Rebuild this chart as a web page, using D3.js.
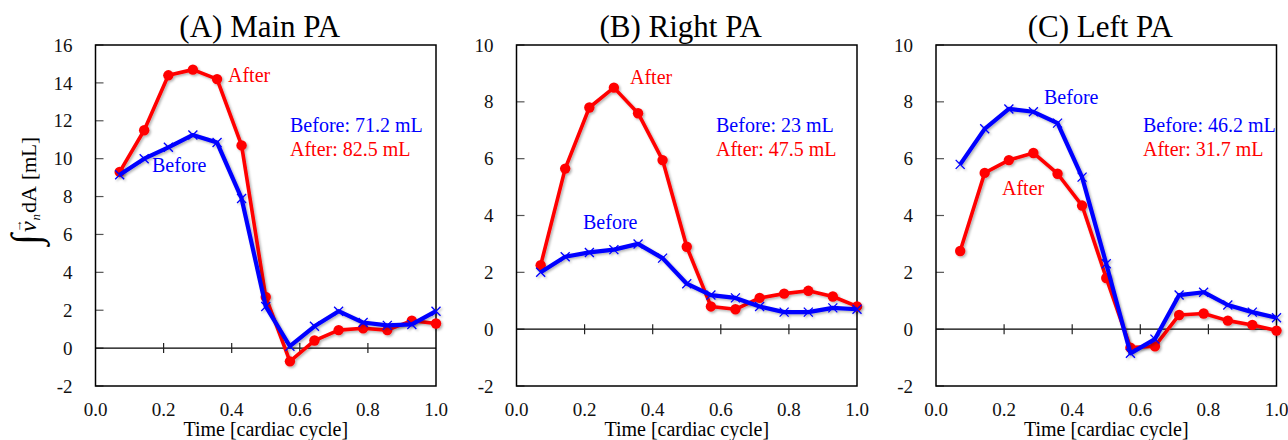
<!DOCTYPE html>
<html><head><meta charset="utf-8">
<script src="https://cdn.jsdelivr.net/npm/d3@7"></script>
<style>
body{margin:0;background:#fff;}
text{font-family:"Liberation Serif","Times New Roman",serif;}
</style></head>
<body><svg id="c" width="1288" height="440"></svg>
<script>
// ---- data ----
const times = [0.071,0.143,0.214,0.286,0.357,0.429,0.5,0.571,0.643,0.714,0.786,0.857,0.929,1.0];
const mainBefore  = [9.15,10.0,10.6,11.25,10.85,7.9,2.2,0.1,1.15,1.95,1.35,1.2,1.25,1.95];
const mainAfter   = [9.3,11.5,14.4,14.7,14.2,10.7,2.7,-0.7,0.4,0.95,1.05,0.95,1.45,1.3];
const rightBefore = [2.0,2.55,2.7,2.8,3.0,2.5,1.6,1.2,1.1,0.8,0.6,0.6,0.75,0.7];
const rightAfter  = [2.25,5.65,7.8,8.5,7.6,5.95,2.9,0.8,0.7,1.1,1.25,1.35,1.15,0.8];
const leftBefore  = [5.8,7.05,7.75,7.65,7.25,5.35,2.3,-0.85,-0.35,1.2,1.3,0.85,0.6,0.4];
const leftAfter   = [2.75,5.5,5.95,6.2,5.47,4.35,1.8,-0.65,-0.6,0.5,0.55,0.3,0.15,-0.05];
const xTicks = [0.0,0.2,0.4,0.6,0.8,1.0];
const yTicksMain = [-2,0,2,4,6,8,10,12,14,16];
const yTicksBranch = [-2,0,2,4,6,8,10];
const titles = ["(A) Main PA","(B) Right PA","(C) Left PA"];
const volBefore = ["Before: 71.2 mL","Before: 23 mL","Before: 46.2 mL"];
const volAfter  = ["After: 82.5 mL","After: 47.5 mL","After: 31.7 mL"];

// ---- layout ----
const svg = d3.select("#c");
const defs = svg.append("defs");
const f = defs.append("filter").attr("id","sh").attr("x","-10%").attr("y","-10%").attr("width","130%").attr("height","130%");
f.append("feDropShadow").attr("dx",1.5).attr("dy",1.5).attr("stdDeviation",1.2).attr("flood-color","#000").attr("flood-opacity",0.3);

const panels = [
  {left:95.5, before:mainBefore, after:mainAfter, yDom:[-2,16], yTicks:yTicksMain,
   labAfter:[228,82], labBefore:[152,172], vol:[290,132]},
  {left:516.5, before:rightBefore, after:rightAfter, yDom:[-2,10], yTicks:yTicksBranch,
   labAfter:[630,84], labBefore:[583,229], vol:[716,132]},
  {left:936, before:leftBefore, after:leftAfter, yDom:[-2,10], yTicks:yTicksBranch,
   labAfter:[1002,195], labBefore:[1044,104], vol:[1143,132]}
];
const PW = 340.5, PTOP = 45, PBOT = 386;
const RED = "#ff0000", BLUE = "#0000ff";

panels.forEach((p,i)=>{
  const x = d3.scaleLinear().domain([0,1]).range([p.left, p.left+PW]);
  const y = d3.scaleLinear().domain(p.yDom).range([PBOT, PTOP]);
  const g = svg.append("g");

  g.append("text").attr("x", p.left+PW/2-6).attr("y",37).attr("text-anchor","middle")
    .attr("font-size",31).attr("fill","#000").text(titles[i]);

  g.selectAll(".yt").data(p.yTicks).join("line")
    .attr("x1",p.left).attr("x2",p.left+8).attr("y1",d=>y(d)).attr("y2",d=>y(d))
    .attr("stroke","#555").attr("stroke-width",1.2);
  g.selectAll(".yl").data(p.yTicks).join("text")
    .attr("x",p.left-23).attr("y",d=>y(d)).attr("dy","0.35em").attr("text-anchor","end")
    .attr("font-size",19).attr("fill","#111").text(d=>d);

  g.append("line").attr("x1",p.left).attr("x2",p.left+PW).attr("y1",y(0)).attr("y2",y(0))
    .attr("stroke","#000").attr("stroke-width",1.2);
  g.selectAll(".xt").data(xTicks.slice(1,-1)).join("line")
    .attr("x1",d=>x(d)).attr("x2",d=>x(d)).attr("y1",y(0)-5).attr("y2",y(0)+5)
    .attr("stroke","#222").attr("stroke-width",1.2);
  g.selectAll(".xl").data(xTicks).join("text")
    .attr("x",d=>x(d)).attr("y",416).attr("text-anchor","middle")
    .attr("font-size",19).attr("fill","#111").text(d=>d.toFixed(1));

  g.append("rect").attr("x",p.left).attr("y",PTOP).attr("width",PW).attr("height",PBOT-PTOP)
    .attr("fill","none").attr("stroke","#000").attr("stroke-width",1.5);

  g.append("text").attr("x",p.left+PW/2).attr("y",436).attr("text-anchor","middle")
    .attr("font-size",20).attr("fill","#000").text("Time [cardiac cycle]");

  const line = d3.line().x((d,j)=>x(times[j])).y(d=>y(d));
  const ga = g.append("g").attr("filter","url(#sh)");
  ga.append("path").attr("d",line(p.after)).attr("fill","none").attr("stroke",RED)
    .attr("stroke-width",3.6).attr("stroke-linejoin","round");
  ga.selectAll("circle").data(p.after).join("circle")
    .attr("cx",(d,j)=>x(times[j])).attr("cy",d=>y(d)).attr("r",5.2).attr("fill",RED);
  const gb = g.append("g").attr("filter","url(#sh)");
  gb.append("path").attr("d",line(p.before)).attr("fill","none").attr("stroke",BLUE)
    .attr("stroke-width",4.2).attr("stroke-linejoin","round");
  const s = 4.5;
  gb.selectAll(".mk").data(p.before).join("path")
    .attr("d",(d,j)=>{const cx=x(times[j]), cy=y(d);
      return `M${cx-s},${cy-s}L${cx+s},${cy+s}M${cx-s},${cy+s}L${cx+s},${cy-s}`;})
    .attr("stroke",BLUE).attr("stroke-width",1.3).attr("fill","none");

  g.append("text").attr("x",p.labAfter[0]).attr("y",p.labAfter[1]).attr("font-size",20)
    .attr("fill",RED).text("After");
  g.append("text").attr("x",p.labBefore[0]).attr("y",p.labBefore[1]).attr("font-size",20)
    .attr("fill",BLUE).text("Before");
  g.append("text").attr("x",p.vol[0]).attr("y",p.vol[1]).attr("font-size",20)
    .attr("fill",BLUE).text(volBefore[i]);
  g.append("text").attr("x",p.vol[0]).attr("y",p.vol[1]+24).attr("font-size",20)
    .attr("fill",RED).text(volAfter[i]);
});

// y-axis label: ∫ v⃗_n dA [mL]
const yl = svg.append("text").attr("transform","translate(36,191) rotate(-90)")
  .attr("text-anchor","middle").attr("fill","#000").attr("font-size",22);
yl.append("tspan").attr("font-size",40).attr("dy",3).text("∫");
yl.append("tspan").attr("font-style","italic").attr("font-size",24).attr("dx",2).attr("dy",-3).text("v");
yl.append("tspan").attr("font-size",13).attr("dx",-11).attr("dy",-14).text("→");
yl.append("tspan").attr("font-size",13).attr("font-style","italic").attr("dx",-1).attr("dy",18).text("n");
yl.append("tspan").attr("dy",-4).attr("dx",1).text("dA");
yl.append("tspan").attr("font-size",21).attr("dx",6).text("[mL]");
</script></body></html>
